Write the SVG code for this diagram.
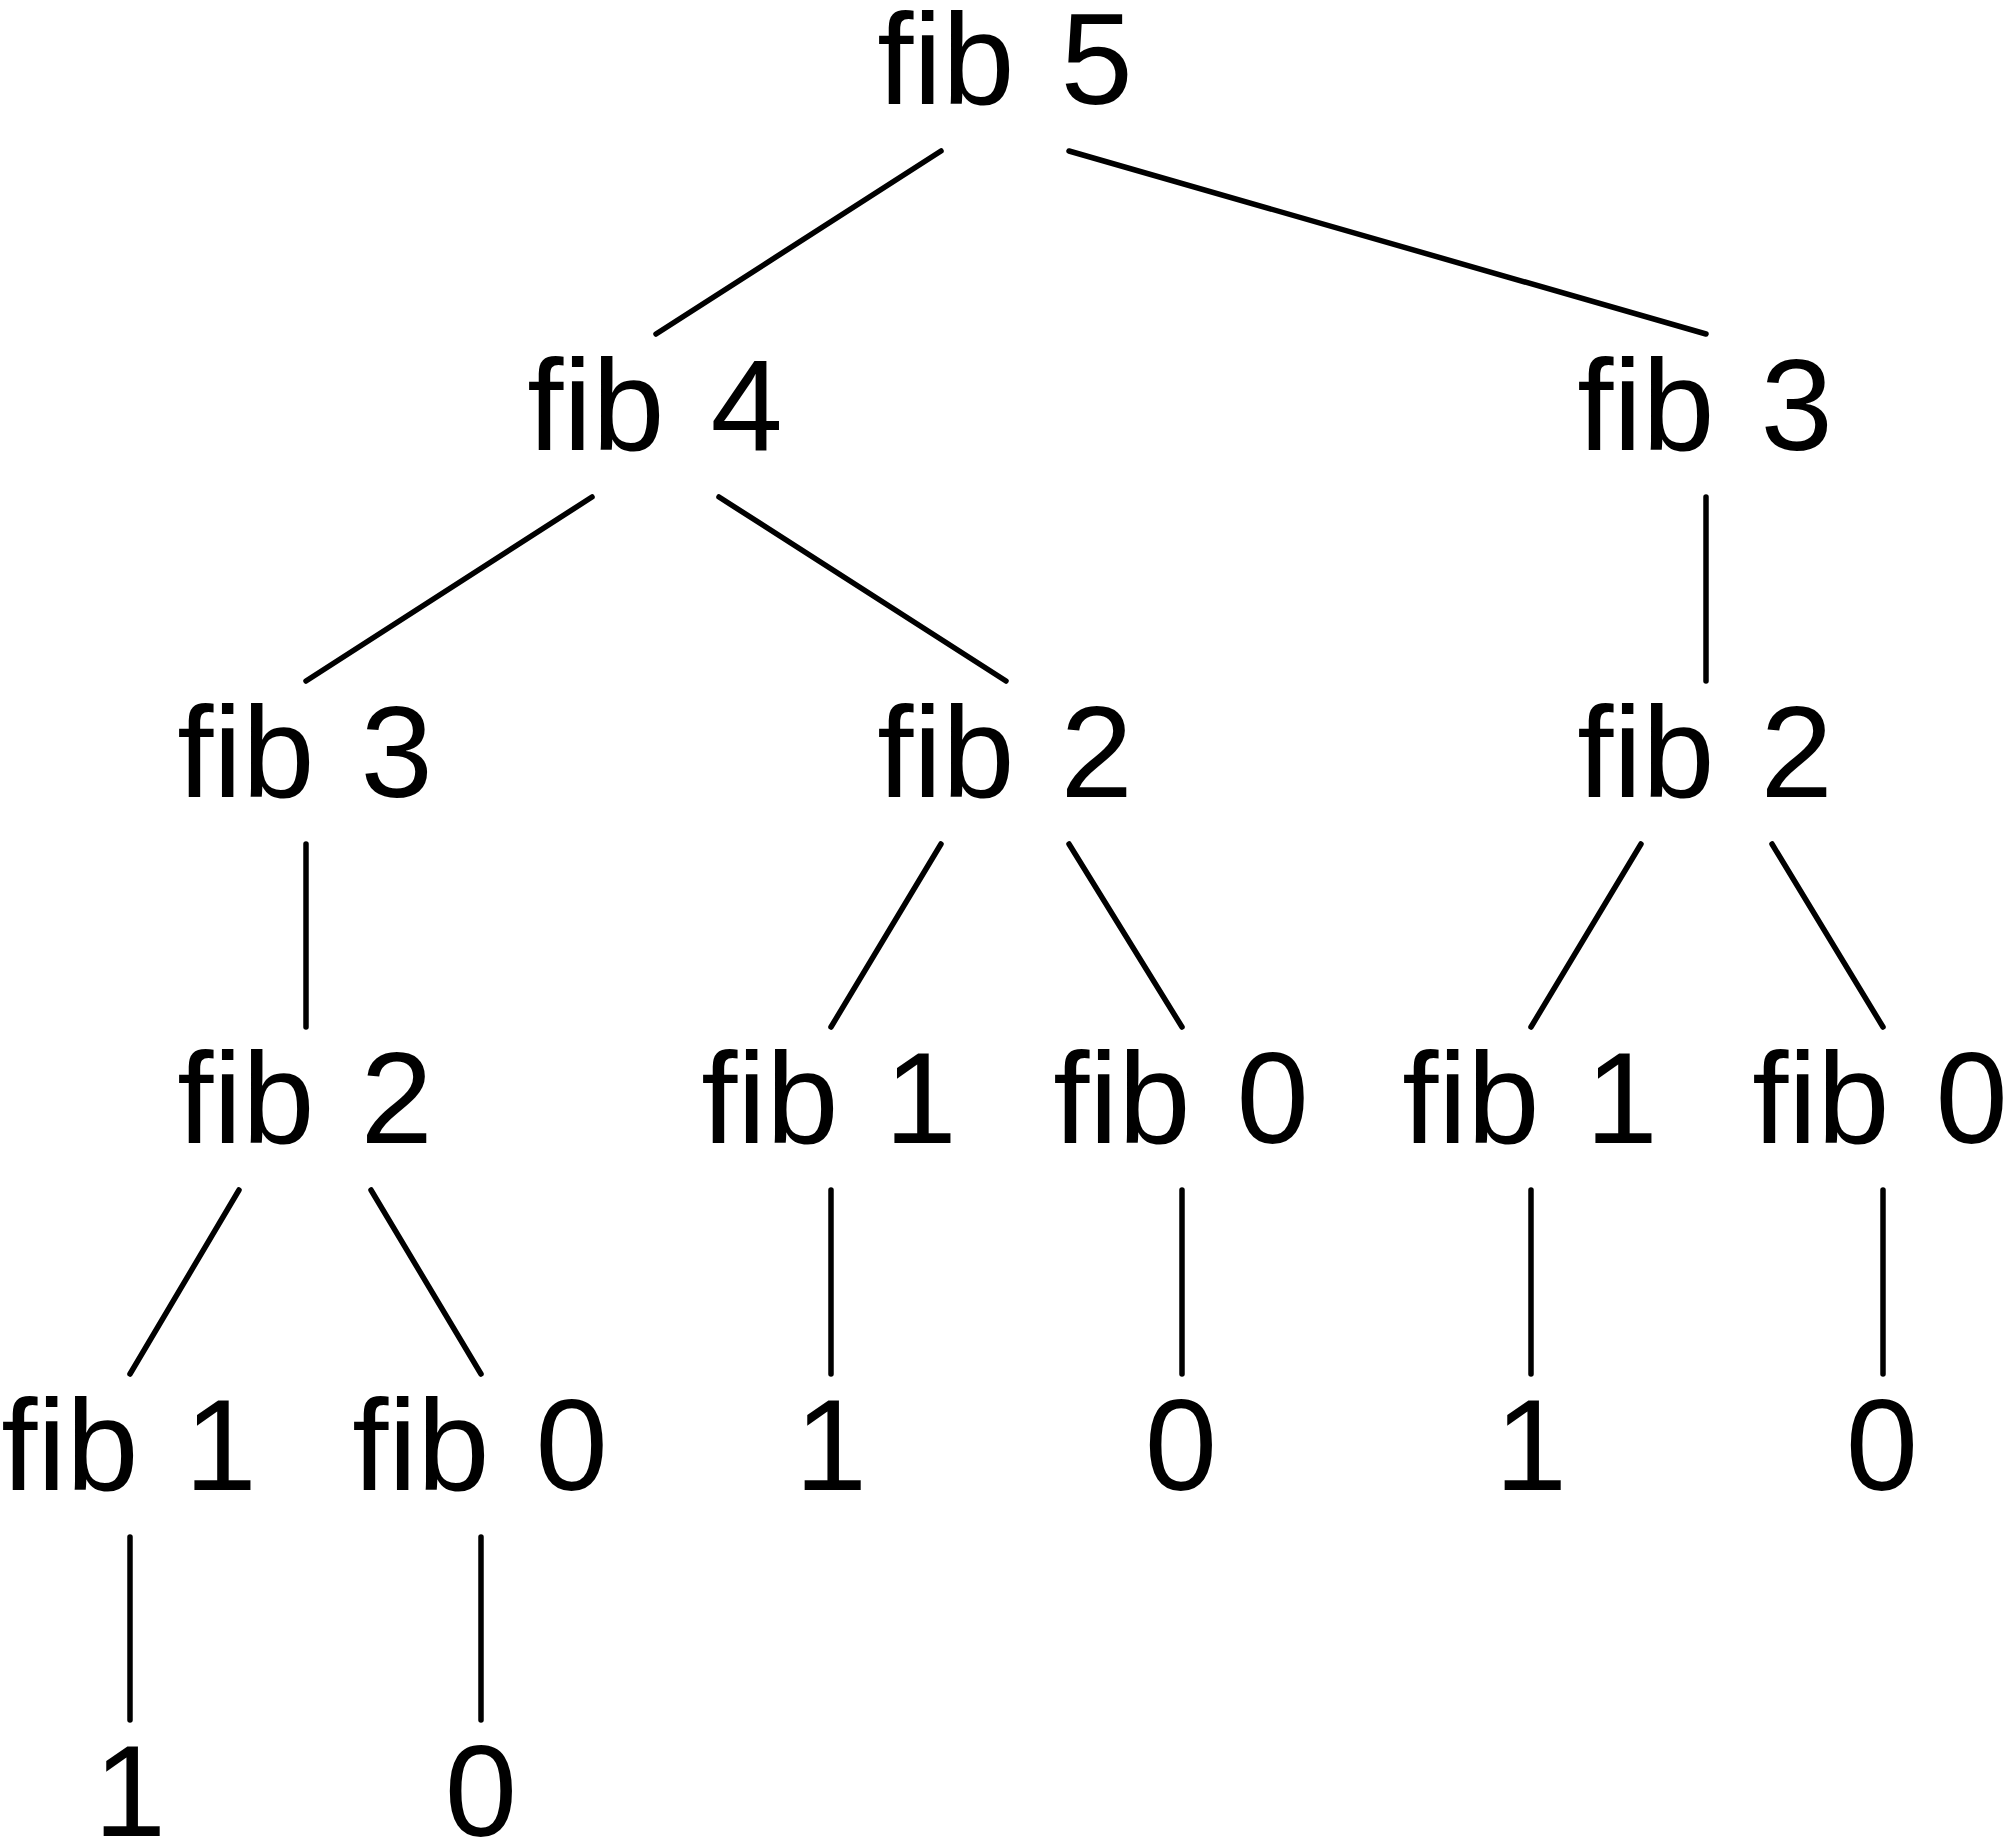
<svg xmlns="http://www.w3.org/2000/svg" width="2014" height="1845" viewBox="0 0 2014 1845">
<style>
text{font-family:"Liberation Sans",Arial,sans-serif;font-size:130px;fill:#000;text-anchor:middle;word-spacing:10px}
.c line{stroke:#000;stroke-width:5.5;stroke-linecap:round}
</style>
<rect width="2014" height="1845" fill="#fff"/>
<g class="c" id="connectors">
<line x1="941" y1="151" x2="656" y2="334"/>
<line x1="1069" y1="151" x2="1706" y2="334"/>
<line x1="592" y1="497" x2="306" y2="681"/>
<line x1="719" y1="497" x2="1006" y2="681"/>
<line x1="1706" y1="497" x2="1706" y2="681"/>
<line x1="306" y1="844" x2="306" y2="1027"/>
<line x1="941" y1="844" x2="831" y2="1027"/>
<line x1="1069" y1="844" x2="1182" y2="1027"/>
<line x1="1641" y1="844" x2="1531" y2="1027"/>
<line x1="1772" y1="844" x2="1883" y2="1027"/>
<line x1="239" y1="1190" x2="130" y2="1374"/>
<line x1="371" y1="1190" x2="481" y2="1374"/>
<line x1="831" y1="1190" x2="831" y2="1374"/>
<line x1="1182" y1="1190" x2="1182" y2="1374"/>
<line x1="1531" y1="1190" x2="1531" y2="1374"/>
<line x1="1883" y1="1190" x2="1883" y2="1374"/>
<line x1="130" y1="1537" x2="130" y2="1720"/>
<line x1="481" y1="1537" x2="481" y2="1720"/>
</g>
<g id="n_fib5"><text x="1005" y="104">fib 5</text></g>
<g id="n_fib4"><text x="655" y="450">fib 4</text></g>
<g id="n_fib3r"><text x="1705" y="450">fib 3</text></g>
<g id="n_fib3l"><text x="305" y="797">fib 3</text></g>
<g id="n_fib2m"><text x="1005" y="797">fib 2</text></g>
<g id="n_fib2r"><text x="1705" y="797">fib 2</text></g>
<g id="n_fib2l"><text x="305" y="1143">fib 2</text></g>
<g id="n_fib1m"><text x="829" y="1143">fib 1</text></g>
<g id="n_fib0m"><text x="1181" y="1143">fib 0</text></g>
<g id="n_fib1r"><text x="1530" y="1143">fib 1</text></g>
<g id="n_fib0r"><text x="1880" y="1143">fib 0</text></g>
<g id="n_fib1l"><text x="129" y="1490">fib 1</text></g>
<g id="n_fib0l"><text x="480" y="1490">fib 0</text></g>
<g id="n_1m"><text x="831" y="1490">1</text></g>
<g id="n_0m"><text x="1181" y="1490">0</text></g>
<g id="n_1r"><text x="1531" y="1490">1</text></g>
<g id="n_0r"><text x="1882" y="1490">0</text></g>
<g id="n_1l"><text x="130" y="1836">1</text></g>
<g id="n_0l"><text x="481" y="1836">0</text></g>
</svg>
